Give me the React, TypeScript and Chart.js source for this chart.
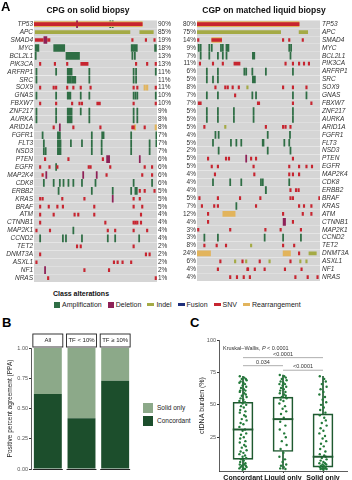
import React, { useEffect, useRef } from 'react';
import { Chart, registerables } from 'chart.js';
Chart.register(...registerables);

const FONT = "'Liberation Sans', Arial, Helvetica, sans-serif";
Chart.defaults.font.family = FONT;

// ---------------- Panel A data ----------------
const genesSolid = ['TP53','APC','SMAD4','MYC','BCL2L1','PIK3CA','ARFRP1','SRC','SOX9','GNAS','FBXW7','ZNF217','AURKA','ARID1A','FGFR1','FLT3','NSD3','PTEN','EGFR','MAP2K4','CDK8','ERBB2','KRAS','BRAF','ATM','CTNNB1','MAP2K1','CCND2','TET2','DNMT3A','ASXL1','NF1','NRAS'];
const pctSolid = ['90%','85%','19%','18%','13%','13%','11%','11%','11%','10%','10%','9%','8%','8%','7%','7%','7%','6%','6%','6%','6%','5%','5%','5%','4%','4%','4%','4%','2%','2%','2%','2%','1%'];
const genesLiquid = ['TP53','APC','SMAD4','MYC','BCL2L1','PIK3CA','ARFRP1','SRC','SOX9','GNAS','FBXW7','ZNF217','AURKA','ARID1A','FGFR1','FLT3','NSD3','PTEN','EGFR','MAP2K4','CDK8','ERBB2','BRAF','KRAS','ATM','CTNNB1','MAP2K1','CCND2','TET2','DNMT3A','ASXL1','NF1','NRAS'];
const pctLiquid = ['80%','75%','14%','9%','7%','11%','6%','5%','8%','7%','7%','5%','5%','5%','4%','5%','2%','5%','5%','4%','4%','4%','5%','7%','12%','4%','3%','3%','8%','24%','6%','4%','4%'];

// alteration marks: [gene, sample position | [start, end], ...] on a 0-100 sample axis
const solidAmp = [
  ['TP53', 62, 64],
  ['MYC', [1, 4], [16, 25], [79, 81], [81.5, 84], [98, 99.5]],
  ['BCL2L1', 1.4, [26, 37], 80, 82],
  ['ARFRP1', 2, 18, [27, 31], 45, 81, 83, 99],
  ['SRC', 2, [27, 30.5], [31, 34], 45, 81, 83],
  ['GNAS', 2, 18, [27, 30], 38, 45, 81, 82.5, 84, 99],
  ['ZNF217', 2, 18, [27, 31], 38, 45, 81, 84],
  ['AURKA', 2, 18, [27, 31], 45, 81, 84],
  ['FGFR1', 7, [19, 21.5], 47, [55, 57], 79, 99.5],
  ['FLT3', 8, [19, 22], 30, 39, 47, 55, 79, 94, 99.5],
  ['NSD3', 8, 9.5, [19, 22], 47, 55, 79, 94],
  ['EGFR', 18],
  ['CDK8', 8, 16, 21, 24, 28, 32, 39, 50, 81, 96],
  ['ERBB2', 20, 47, 64, 79, [82, 84]],
  ['MAP2K1', 32],
  ['CCND2', 5, 23.5, 26, 39, 60, 66, 85.5],
];
const solidDel = [
  ['TP53', 35], ['SMAD4', [8, 10.5]], ['ARID1A', 21], ['PTEN', [59, 61.5], 86],
  ['MAP2K4', 10, 40, 51], ['KRAS', 64], ['NF1', 9],
];
const solidIndel = [['APC', [1, 78], [86, 97]]];
const solidFusion = [];
const solidSnv = [
  ['TP53', [0, 88]],
  ['SMAD4', [1, 7.5], [11, 13], 80, 91, 98],
  ['PIK3CA', 5, 17, 27, [38, 44], 83, 92, 99],
  ['SOX9', 5, 16, 18, 27, 32, 38, 46, 81, 84, 99],
  ['FBXW7', 5, 18, 31, 37, 39, [51, 54], 81, 99],
  ['ARID1A', 16, 32, 54, 80, 81, 90],
  ['PTEN', 9, 28, 56],
  ['EGFR', 5, 12.6, 19, 44.5, 46, 62, 90, 96],
  ['MAP2K4', 7, 59, 88, 96],
  ['ERBB2', 86, 90, 98],
  ['KRAS', 5, 7, 23, 41, 81, 86],
  ['BRAF', 5, 12, 19, 23.5, 49, 81, 88],
  ['ATM', 5, 16, 33, 36, 49, 87],
  ['CTNNB1', 5, 58, 81, 82.5, 84, 87],
  ['MAP2K1', 2, 13, 60, 66, 81, 92],
  ['TET2', 35, 38, 81],
  ['DNMT3A', 5, 91, 94],
  ['ASXL1', 2, 65, 68, 72, 79],
  ['NF1', 41, 61],
  ['NRAS', 11.5, 99],
];
const solidRearr = [['TP53', [0, 88]], ['SOX9', 90, 92], ['ARID1A', 82, 99]];

const liquidAmp = [
  ['MYC', 1.4, 3, 10, 12, 19.5, 21, [23.5, 26], 75, 76.5],
  ['BCL2L1', 3, 10, 17, 21, 24, [45, 47], 76],
  ['ARFRP1', 8, 17, 38.5, 40, 45, 56, 78],
  ['SRC', 8, 13, 17, [45, 47.5]],
  ['GNAS', 8, 17, 45, 48, 78, 89],
  ['ZNF217', 8, 17, 30, 46, 78],
  ['AURKA', 8, 17, 30, 46, 78],
  ['FGFR1', 15, 17.6, 57.5, 75.6],
  ['FLT3', 13, 27.6, 32, 36, [53, 54.5], 71, 75],
  ['NSD3', 17.6, 57.5, 76],
  ['CDK8', 13, 27, 36, 52, 53.5, 75],
  ['ERBB2', [55.5, 56.5]],
  ['CCND2', 6, 17, 55, 70, 84.5],
  ['KRAS', 32],
];
const liquidDel = [['PTEN', 40], ['CTNNB1', [70, 72]]];
const liquidIndel = [
  ['APC', [0, 68], [83, 90]], ['SOX9', 41], ['ARID1A', 23], ['TET2', 44],
  ['DNMT3A', [91, 97]], ['ASXL1', 31, 40, 59, 84, 89],
];
const liquidFusion = [];
const liquidSnv = [
  ['TP53', [0, 83]],
  ['SMAD4', 1, [12, 20], 70, 75, 86],
  ['PIK3CA', 2.4, 13, 21, [30, 35], 72, 78, 83, 87, 91],
  ['SOX9', 15, 23, 25, 29, 34, 70, 78, 89],
  ['GNAS', 31],
  ['FBXW7', [1, 3.5], [49, 51], 78, 93],
  ['ARID1A', 6, 56, 70, 72, 76],
  ['PTEN', 9, 23.6, 26, 44, 48, 78],
  ['EGFR', 12, 17, 46, 75, 83, 89, 93.5],
  ['MAP2K4', 14.6, 46.6, 75, 78, 83],
  ['ERBB2', 76, 80.5, 82.6],
  ['BRAF', 2, 17, 35, 51.5, 76, 78, 99.5],
  ['KRAS', 4, 14, 17, 48, 83, 87, 93],
  ['ATM', 9, 70, 86, 93],
  ['CTNNB1', 9, 78],
  ['MAP2K1', 1, 27, 55.6, 68, 84.5],
  ['TET2', 6, 16, 23.6, 70, 79],
  ['DNMT3A', 83],
  ['ASXL1', 19, 37, 51, 76],
  ['NF1', 17, 41, 41.5, 47, 55, 71.5, 85],
  ['NRAS', 27, 32.5, 38, 43, 80, 90, 98],
];
const liquidRearr = [['TP53', [0, 83]], ['SMAD4', [12, 20]], ['ATM', [21, 31]], ['DNMT3A', [0, 11], [70, 76]]];

const alterationClasses = ['Amplification', 'Deletion', 'Indel', 'Fusion', 'SNV', 'Rearrangement'];

// ---------------- Panel B data ----------------
const facetLabels = ['All', 'TF < 10%', 'TF \u2265 10%'];
const ppaConcordant = [0.62, 0.42, 0.73];
const ppaSolidOnly = [0.38, 0.58, 0.27];

// ---------------- Panel C data ----------------
const groupsC = ['Concordant', 'Liquid only', 'Solid only'];
const q1C = [8, 14, 2];
const medianC = [31, 39, 10];
const q3C = [52, 56, 43];
const minC = [0, 0.5, 0];
const maxC = [72, 73, 72];
const concordantVals = [72,71,70,70,69,68,67,67,66,65,64,63,62,61,61,60,59,58,57,56,55,54,53,52,51,50,49,48,46,45,44,42,41,39,38,36,35,33,31,30,28,27,25,24,22,21,19,18,17,15,14,13,12,11,10,9,8,7,6,5,4,4,3,3,2,2,1,1,0.5,0];
const liquidVals = [73,72,71,70,69,68,67,66,66,65,64,63,62,61,60,59,58,57,56,55,54,53,51,49,47,45,43,40,37,34,31,28,25,22,19,16,13,10,8,6,4,3,2,1,0.5];
const solidVals = [72,70,68,66,64,62,60,58,56,54,52,50,48,46,44,42,40,38,36,34,32,30,28,26,24,22,20,18,16,14,12,11,10,9,8,7,6,5,5,4,4,3,3,2,2,2,1,1,1,0.5,0.5,0];
const jitterC = [-0.08, 0.03, 0.07, -0.03, 0.09, -0.06, 0.01, -0.09, 0.05, -0.01, 0.08, -0.05, 0.02, -0.07, 0.06];
const brackets = [
  { from: 1, to: 3, y: 86.4, label: '<0.0001', ly: 88.8 },
  { from: 1, to: 2, y: 80.2, label: '0.034', ly: 82.8 },
  { from: 2, to: 3, y: 76.7, label: '<0.0001', ly: 79.3 },
];

// ---------------- styles ----------------
const COL = {
  amp: '#2f6e45', del: '#8e2157', indel: '#a4aa45', fusion: '#1f2f7a', snv: '#c72530', rearr: '#e2b45c', bg: '#d5d5d5',
  conc: '#1c4e2c', solid: '#8ca989', box: '#1f5a30', pts: '#237a3a',
};

function toBars(entries, thin) {
  const out = [];
  for (const e of entries) {
    const g = e[0];
    for (const p of e.slice(1)) {
      if (Array.isArray(p)) out.push({ x: [p[0], p[1]], y: g });
      else out.push({ x: [p - thin / 2, p + thin / 2], y: g });
    }
  }
  return out;
}

const NOGRID = { display: false, drawTicks: false, tickLength: 0 };

function Oncoprint({ side, genes, pcts, marks, title, left }) {
  const ref = useRef(null);
  useEffect(() => {
    const isLeft = side === 'left';
    const ds = (label, data, color, thickness, order) => ({
      type: 'bar', label, data, backgroundColor: color, barThickness: thickness,
      grouped: false, order, borderWidth: 0, yAxisID: 'g', xAxisID: 'x',
    });
    const chart = new Chart(ref.current, {
      type: 'bar',
      data: {
        labels: genes,
        datasets: [
          ds('SNV', toBars(marks.snv, 1.2), COL.snv, 3, 1),
          ds('Indel', toBars(marks.indel, 1.2), COL.indel, 3, 2),
          ds('Fusion', toBars(marks.fusion, 1.2), COL.fusion, 3, 3),
          ds('Deletion', toBars(marks.del, 0.9), COL.del, 7, 4),
          ds('Rearrangement', toBars(marks.rearr, 1.2), COL.rearr, 5, 5),
          ds('Amplification', toBars(marks.amp, 0.9), COL.amp, 7, 6),
          ds('none', genes.map((g) => ({ x: [0, 100], y: g })), COL.bg, 7, 7),
        ],
      },
      options: {
        indexAxis: 'y', responsive: false, animation: false,
        layout: { padding: { top: 1, bottom: 1, left: 0, right: 0 } },
        plugins: {
          legend: { display: false }, tooltip: { enabled: false },
          title: { display: true, text: title, color: '#111', font: { family: FONT, size: 8.5, weight: 'bold' }, padding: { top: 5, bottom: 4 } },
        },
        scales: {
          x: { type: 'linear', min: 0, max: 100, display: false },
          g: {
            axis: 'y', type: 'category', labels: genes, position: isLeft ? 'left' : 'right', offset: true,
            grid: NOGRID, border: { display: false },
            ticks: { autoSkip: false, padding: isLeft ? 1 : 2, color: '#333', font: { family: FONT, size: 6.5, style: 'italic' } },
            afterFit: (s) => { s.width = isLeft ? 34 : 32; },
          },
          p: {
            axis: 'y', type: 'category', labels: pcts, position: isLeft ? 'right' : 'left', offset: true,
            grid: NOGRID, border: { display: false },
            ticks: { autoSkip: false, padding: 1, color: '#333', font: { family: FONT, size: 6.5 } },
            afterFit: (s) => { s.width = isLeft ? 19 : 21; },
          },
        },
      },
    });
    return () => chart.destroy();
  }, []);
  return <canvas ref={ref} width={176} height={287} style={{ position: 'absolute', left, top: 0, width: 176, height: 287 }} />;
}

function PanelB() {
  const ref = useRef(null);
  useEffect(() => {
    const strips = {
      id: 'strips',
      afterDraw(chart) {
        const ctx = chart.ctx;
        const { top, bottom } = chart.chartArea;
        chart.getDatasetMeta(0).data.forEach((bar, i) => {
          const { x, width } = bar.getProps(['x', 'width'], true);
          ctx.save();
          ctx.fillStyle = '#fff';
          ctx.strokeStyle = '#222';
          ctx.lineWidth = 0.9;
          ctx.fillRect(x - width / 2 - 1, top - 14, width + 2, 13);
          ctx.strokeRect(x - width / 2 - 1, top - 14, width + 2, 13);
          ctx.fillStyle = '#222';
          ctx.font = `6px ${FONT}`;
          ctx.textAlign = 'center';
          ctx.textBaseline = 'middle';
          ctx.fillText(String(chart.data.labels[i]), x, top - 7.5);
          ctx.strokeStyle = '#222';
          ctx.lineWidth = 1;
          ctx.beginPath();
          ctx.moveTo(x - width / 2 - 1, bottom + 0.5);
          ctx.lineTo(x + width / 2 + 1, bottom + 0.5);
          ctx.stroke();
          ctx.restore();
        });
      },
    };
    const chart = new Chart(ref.current, {
      type: 'bar',
      data: {
        labels: facetLabels,
        datasets: [
          { label: 'Concordant', data: ppaConcordant, backgroundColor: COL.conc, barPercentage: 0.83, categoryPercentage: 1, borderWidth: 0 },
          { label: 'Solid only', data: ppaSolidOnly, backgroundColor: COL.solid, barPercentage: 0.83, categoryPercentage: 1, borderWidth: 0 },
        ],
      },
      options: {
        responsive: false, animation: false,
        layout: { padding: { top: 18, right: 8, bottom: 11, left: 0 } },
        plugins: { legend: { display: false }, tooltip: { enabled: false } },
        scales: {
          x: { stacked: true, display: false },
          y: {
            stacked: true, min: 0, max: 1,
            ticks: { stepSize: 0.25, padding: 1, color: '#555', font: { family: FONT, size: 5.5 }, callback: (v) => Number(v).toFixed(2) },
            grid: { display: true, drawOnChartArea: false, drawTicks: true, tickLength: 2, color: '#333' },
            border: { display: true, color: '#333', width: 0.8 },
            title: { display: true, text: 'Positive percent agreement (PPA)', color: '#222', font: { family: FONT, size: 6.5 }, padding: { top: 6, bottom: 0 } },
            afterFit: (s) => { s.width = 31; },
          },
        },
      },
      plugins: [strips],
    });
    return () => chart.destroy();
  }, []);
  return <canvas ref={ref} width={140} height={150} style={{ position: 'absolute', left: 0, top: 330, width: 140, height: 150 }} />;
}

function PanelC() {
  const ref = useRef(null);
  useEffect(() => {
    const pts = [];
    [concordantVals, liquidVals, solidVals].forEach((arr, gi) => {
      arr.forEach((v, i) => pts.push({ x: gi + 1 + jitterC[i % jitterC.length], y: v }));
    });
    const whiskers = [];
    groupsC.forEach((_, i) => {
      whiskers.push({ x: i + 1, y: [q3C[i], maxC[i]] });
      whiskers.push({ x: i + 1, y: [minC[i], q1C[i]] });
    });
    const annot = {
      id: 'annot',
      afterDraw(chart) {
        const ctx = chart.ctx;
        const xs = chart.scales.x;
        const ys = chart.scales.y;
        ctx.save();
        ctx.font = `5.5px ${FONT}`;
        ctx.fillStyle = '#333';
        ctx.textBaseline = 'middle';
        let x = xs.getPixelForValue(0.5);
        const y = ys.getPixelForValue(93.8);
        const t1 = 'Kruskal\u2013Wallis, ';
        ctx.textAlign = 'left';
        ctx.fillText(t1, x, y);
        x += ctx.measureText(t1).width;
        ctx.font = `italic 5.5px ${FONT}`;
        ctx.fillText('P', x, y);
        x += ctx.measureText('P').width;
        ctx.font = `5.5px ${FONT}`;
        ctx.fillText(' < 0.0001', x, y);
        brackets.forEach((b) => {
          const x1 = xs.getPixelForValue(b.from);
          const x2 = xs.getPixelForValue(b.to);
          const yy = ys.getPixelForValue(b.y);
          ctx.strokeStyle = '#9a9a9a';
          ctx.lineWidth = 0.8;
          ctx.beginPath();
          ctx.moveTo(x1, yy);
          ctx.lineTo(x2, yy);
          ctx.stroke();
          ctx.textAlign = 'center';
          ctx.fillText(b.label, (x1 + x2) / 2, ys.getPixelForValue(b.ly));
        });
        ctx.restore();
      },
    };
    const chart = new Chart(ref.current, {
      type: 'bar',
      data: {
        datasets: [
          { type: 'bar', label: 'median', data: medianC.map((m, i) => ({ x: i + 1, y: [m - 0.5, m + 0.5] })), backgroundColor: COL.box, barThickness: 20, grouped: false, order: 0, borderWidth: 0 },
          { type: 'scatter', label: 'points', data: pts, backgroundColor: COL.pts, borderColor: COL.pts, pointRadius: 1.2, borderWidth: 0, order: 1 },
          { type: 'bar', label: 'box', data: q1C.map((q, i) => ({ x: i + 1, y: [q, q3C[i]] })), backgroundColor: 'rgba(255,255,255,0)', borderColor: COL.box, borderWidth: 1, borderSkipped: false, barThickness: 20, grouped: false, order: 2 },
          { type: 'bar', label: 'whisker', data: whiskers, backgroundColor: COL.box, barThickness: 1, grouped: false, order: 3, borderWidth: 0 },
        ],
      },
      options: {
        responsive: false, animation: false,
        layout: { padding: { top: 10, right: 5, bottom: 0, left: 0 } },
        plugins: { legend: { display: false }, tooltip: { enabled: false } },
        scales: {
          x: {
            type: 'linear', min: 0.4, max: 3.6, offset: false,
            afterBuildTicks: (s) => { s.ticks = [1, 2, 3].map((v) => ({ value: v })); },
            ticks: { padding: 1, autoSkip: false, maxRotation: 0, minRotation: 0, color: '#111', font: { family: FONT, size: 7, weight: 'bold' }, callback: (v) => groupsC[v - 1] },
            grid: { display: true, offset: false, drawOnChartArea: false, tickLength: 2, color: '#333' },
            border: { display: true, color: '#333', width: 0.8 },
            afterFit: (s) => { s.height = 9; s.paddingLeft = 0; s.paddingRight = 0; },
          },
          y: {
            type: 'linear', min: -1, max: 100,
            afterBuildTicks: (s) => { s.ticks = [25, 50, 75, 100].map((v) => ({ value: v })); },
            ticks: { padding: 1, color: '#555', font: { family: FONT, size: 5.5 } },
            grid: { display: true, drawOnChartArea: false, tickLength: 2, color: '#333' },
            border: { display: true, color: '#333', width: 0.8 },
            title: { display: true, text: 'ctDNA burden (%)', color: '#222', font: { family: FONT, size: 7 }, padding: { top: 22, bottom: 0 } },
            afterFit: (s) => { s.width = 43; s.paddingTop = 0; s.paddingBottom = 0; },
          },
        },
      },
      plugins: [annot],
    });
    return () => chart.destroy();
  }, []);
  return <canvas ref={ref} width={176} height={150} style={{ position: 'absolute', left: 176, top: 330, width: 176, height: 150 }} />;
}

const legendIcons = [
  { w: 6, h: 6, c: COL.amp },
  { w: 6, h: 6, c: COL.del },
  { w: 7, h: 3, c: COL.indel },
  { w: 7, h: 3, c: COL.fusion },
  { w: 7, h: 3, c: COL.snv },
  { w: 7, h: 3, c: COL.rearr },
];

const panelLabel = (t, left, top) => (
  <div style={{ position: 'absolute', left, top, fontFamily: FONT, fontWeight: 'bold', fontSize: 13, lineHeight: '13px', color: '#000' }}>{t}</div>
);

export default function App() {
  return (
    <div style={{ position: 'absolute', left: 0, top: 0, width: 352, height: 480, overflow: 'hidden', background: '#fff', fontFamily: FONT }}>
      <Oncoprint side="left" left={0} genes={genesSolid} pcts={pctSolid} title="CPG on solid biopsy"
        marks={{ amp: solidAmp, del: solidDel, indel: solidIndel, fusion: solidFusion, snv: solidSnv, rearr: solidRearr }} />
      <Oncoprint side="right" left={176} genes={genesLiquid} pcts={pctLiquid} title="CGP on matched liquid biopsy"
        marks={{ amp: liquidAmp, del: liquidDel, indel: liquidIndel, fusion: liquidFusion, snv: liquidSnv, rearr: liquidRearr }} />
      {panelLabel('A', 1, 0)}
      <div style={{ position: 'absolute', left: 53, top: 289, fontSize: 7, lineHeight: '9px', fontWeight: 'bold', color: '#111' }}>Class alterations</div>
      <div style={{ position: 'absolute', left: 54, top: 300, height: 9, display: 'flex', alignItems: 'center', fontSize: 7, color: '#222', whiteSpace: 'nowrap' }}>
        {alterationClasses.map((name, i) => (
          <div key={name} style={{ display: 'flex', alignItems: 'center', marginRight: 6 }}>
            <span style={{ display: 'inline-block', width: legendIcons[i].w, height: legendIcons[i].h, background: legendIcons[i].c, marginRight: 2 }} />
            <span>{name}</span>
          </div>
        ))}
      </div>
      {panelLabel('B', 2, 316)}
      <PanelB />
      <div style={{ position: 'absolute', left: 143, top: 403, width: 10, height: 10, background: COL.solid }} />
      <div style={{ position: 'absolute', left: 143, top: 416, width: 10, height: 10, background: COL.conc }} />
      <div style={{ position: 'absolute', left: 157, top: 404, fontSize: 6.5, lineHeight: '8px', color: '#222', whiteSpace: 'nowrap' }}>Solid only</div>
      <div style={{ position: 'absolute', left: 157, top: 417, fontSize: 6.5, lineHeight: '8px', color: '#222', whiteSpace: 'nowrap' }}>Concordant</div>
      {panelLabel('C', 190, 316)}
      <PanelC />
    </div>
  );
}
